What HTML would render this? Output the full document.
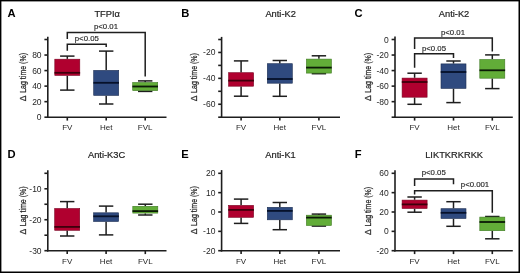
<!DOCTYPE html>
<html><head><meta charset="utf-8"><style>
html,body{margin:0;padding:0;background:#fff;}
body{width:520px;height:273px;overflow:hidden;}
svg{display:block;font-family:"Liberation Sans", sans-serif;will-change:transform;filter:blur(0.35px);}
</style></head><body>
<svg width="520" height="273" viewBox="0 0 520 273">
<rect x="0" y="0" width="520" height="273" fill="#fff"/>
<text x="7.60" y="17.10" font-size="11.2" text-anchor="start" font-weight="bold" fill="#000" >A</text>
<text x="94.40" y="17.00" font-size="9.3" text-anchor="start" font-weight="normal" fill="#1e1e1e" stroke="#1e1e1e" stroke-width="0.2">TFPI&#945;</text>
<line x1="47.80" y1="36.80" x2="47.80" y2="118.00" stroke="#1e1e1e" stroke-width="1.6"/>
<line x1="44.40" y1="117.20" x2="47.80" y2="117.20" stroke="#1e1e1e" stroke-width="1.6"/>
<text x="41.60" y="120.20" font-size="8.5" text-anchor="end" font-weight="normal" fill="#262626" >0</text>
<line x1="44.40" y1="101.66" x2="47.80" y2="101.66" stroke="#1e1e1e" stroke-width="1.6"/>
<text x="41.60" y="104.66" font-size="8.5" text-anchor="end" font-weight="normal" fill="#262626" >20</text>
<line x1="44.40" y1="86.12" x2="47.80" y2="86.12" stroke="#1e1e1e" stroke-width="1.6"/>
<text x="41.60" y="89.12" font-size="8.5" text-anchor="end" font-weight="normal" fill="#262626" >40</text>
<line x1="44.40" y1="70.58" x2="47.80" y2="70.58" stroke="#1e1e1e" stroke-width="1.6"/>
<text x="41.60" y="73.58" font-size="8.5" text-anchor="end" font-weight="normal" fill="#262626" >60</text>
<line x1="44.40" y1="55.04" x2="47.80" y2="55.04" stroke="#1e1e1e" stroke-width="1.6"/>
<text x="41.60" y="58.04" font-size="8.5" text-anchor="end" font-weight="normal" fill="#262626" >80</text>
<line x1="44.40" y1="39.50" x2="47.80" y2="39.50" stroke="#1e1e1e" stroke-width="1.6"/>
<text x="0" y="0" font-size="9.6" text-anchor="start" fill="#262626" transform="translate(26.00,92.80) rotate(-90) scale(0.732,1)" stroke="#262626" stroke-width="0.25">Lag time (%)</text>
<text x="0" y="0" font-size="8.6" text-anchor="middle" fill="#262626" transform="translate(26.00,98.30) rotate(-90)" stroke="#262626" stroke-width="0.25">&#916;</text>
<line x1="47.00" y1="117.20" x2="166.50" y2="117.20" stroke="#1e1e1e" stroke-width="1.6"/>
<line x1="67.30" y1="117.20" x2="67.30" y2="120.60" stroke="#1e1e1e" stroke-width="1.6"/>
<text x="67.30" y="130.10" font-size="8.0" text-anchor="middle" font-weight="normal" fill="#262626" >FV</text>
<line x1="106.20" y1="117.20" x2="106.20" y2="120.60" stroke="#1e1e1e" stroke-width="1.6"/>
<text x="106.20" y="130.10" font-size="8.0" text-anchor="middle" font-weight="normal" fill="#262626" >Het</text>
<line x1="145.20" y1="117.20" x2="145.20" y2="120.60" stroke="#1e1e1e" stroke-width="1.6"/>
<text x="145.20" y="130.10" font-size="8.0" text-anchor="middle" font-weight="normal" fill="#262626" >FVL</text>
<line x1="67.30" y1="56.10" x2="67.30" y2="58.90" stroke="#1e1e1e" stroke-width="1.5"/>
<line x1="67.30" y1="75.70" x2="67.30" y2="90.10" stroke="#1e1e1e" stroke-width="1.5"/>
<line x1="60.10" y1="56.10" x2="74.50" y2="56.10" stroke="#1e1e1e" stroke-width="1.5"/>
<line x1="60.10" y1="90.10" x2="74.50" y2="90.10" stroke="#1e1e1e" stroke-width="1.5"/>
<rect x="54.80" y="59.20" width="25.00" height="16.20" fill="#b0002f" stroke="#7a0020" stroke-width="0.6"/>
<line x1="54.50" y1="72.80" x2="80.10" y2="72.80" stroke="#3d000c" stroke-width="1.8"/>
<line x1="106.20" y1="51.10" x2="106.20" y2="70.10" stroke="#1e1e1e" stroke-width="1.5"/>
<line x1="106.20" y1="95.70" x2="106.20" y2="104.00" stroke="#1e1e1e" stroke-width="1.5"/>
<line x1="99.00" y1="51.10" x2="113.40" y2="51.10" stroke="#1e1e1e" stroke-width="1.5"/>
<line x1="99.00" y1="104.00" x2="113.40" y2="104.00" stroke="#1e1e1e" stroke-width="1.5"/>
<rect x="93.70" y="70.40" width="25.00" height="25.00" fill="#2f4a7f" stroke="#1b2d52" stroke-width="0.6"/>
<line x1="93.40" y1="82.80" x2="119.00" y2="82.80" stroke="#06112a" stroke-width="1.8"/>
<line x1="145.20" y1="80.90" x2="145.20" y2="82.20" stroke="#1e1e1e" stroke-width="1.5"/>
<line x1="145.20" y1="90.90" x2="145.20" y2="91.40" stroke="#1e1e1e" stroke-width="1.5"/>
<line x1="138.00" y1="80.90" x2="152.40" y2="80.90" stroke="#1e1e1e" stroke-width="1.5"/>
<line x1="138.00" y1="91.40" x2="152.40" y2="91.40" stroke="#1e1e1e" stroke-width="1.5"/>
<rect x="132.70" y="82.50" width="25.00" height="8.10" fill="#62ad38" stroke="#3f7a22" stroke-width="0.6"/>
<line x1="132.40" y1="86.50" x2="158.00" y2="86.50" stroke="#0b1a06" stroke-width="1.8"/>
<polyline points="67.30,50.80 67.30,44.30 106.20,44.30 106.20,47.10" fill="none" stroke="#1e1e1e" stroke-width="1.5"/>
<text x="86.80" y="41.20" font-size="7.8" text-anchor="middle" font-weight="normal" fill="#262626" stroke="#262626" stroke-width="0.15">p&lt;0.05</text>
<polyline points="67.30,39.00 67.30,32.50 145.20,32.50 145.20,76.50" fill="none" stroke="#1e1e1e" stroke-width="1.5"/>
<text x="106.00" y="29.40" font-size="7.8" text-anchor="middle" font-weight="normal" fill="#262626" stroke="#262626" stroke-width="0.15">p&lt;0.01</text>
<text x="181.20" y="16.90" font-size="11.2" text-anchor="start" font-weight="bold" fill="#000" >B</text>
<text x="265.40" y="17.20" font-size="9.3" text-anchor="start" font-weight="normal" fill="#1e1e1e" stroke="#1e1e1e" stroke-width="0.2">Anti-K2</text>
<line x1="221.60" y1="36.90" x2="221.60" y2="118.00" stroke="#1e1e1e" stroke-width="1.6"/>
<line x1="218.20" y1="39.50" x2="221.60" y2="39.50" stroke="#1e1e1e" stroke-width="1.6"/>
<line x1="218.20" y1="52.45" x2="221.60" y2="52.45" stroke="#1e1e1e" stroke-width="1.6"/>
<text x="215.40" y="55.45" font-size="8.5" text-anchor="end" font-weight="normal" fill="#262626" >-20</text>
<line x1="218.20" y1="65.40" x2="221.60" y2="65.40" stroke="#1e1e1e" stroke-width="1.6"/>
<line x1="218.20" y1="78.35" x2="221.60" y2="78.35" stroke="#1e1e1e" stroke-width="1.6"/>
<text x="215.40" y="81.35" font-size="8.5" text-anchor="end" font-weight="normal" fill="#262626" >-40</text>
<line x1="218.20" y1="91.30" x2="221.60" y2="91.30" stroke="#1e1e1e" stroke-width="1.6"/>
<line x1="218.20" y1="104.25" x2="221.60" y2="104.25" stroke="#1e1e1e" stroke-width="1.6"/>
<text x="215.40" y="107.25" font-size="8.5" text-anchor="end" font-weight="normal" fill="#262626" >-60</text>
<line x1="218.20" y1="117.20" x2="221.60" y2="117.20" stroke="#1e1e1e" stroke-width="1.6"/>
<text x="0" y="0" font-size="9.6" text-anchor="start" fill="#262626" transform="translate(196.80,92.90) rotate(-90) scale(0.732,1)" stroke="#262626" stroke-width="0.25">Lag time (%)</text>
<text x="0" y="0" font-size="8.6" text-anchor="middle" fill="#262626" transform="translate(196.80,98.40) rotate(-90)" stroke="#262626" stroke-width="0.25">&#916;</text>
<line x1="220.80" y1="117.20" x2="340.00" y2="117.20" stroke="#1e1e1e" stroke-width="1.6"/>
<line x1="241.10" y1="117.20" x2="241.10" y2="120.60" stroke="#1e1e1e" stroke-width="1.6"/>
<text x="241.10" y="130.10" font-size="8.0" text-anchor="middle" font-weight="normal" fill="#262626" >FV</text>
<line x1="279.80" y1="117.20" x2="279.80" y2="120.60" stroke="#1e1e1e" stroke-width="1.6"/>
<text x="279.80" y="130.10" font-size="8.0" text-anchor="middle" font-weight="normal" fill="#262626" >Het</text>
<line x1="318.90" y1="117.20" x2="318.90" y2="120.60" stroke="#1e1e1e" stroke-width="1.6"/>
<text x="318.90" y="130.10" font-size="8.0" text-anchor="middle" font-weight="normal" fill="#262626" >FVL</text>
<line x1="241.10" y1="60.90" x2="241.10" y2="72.40" stroke="#1e1e1e" stroke-width="1.5"/>
<line x1="241.10" y1="86.50" x2="241.10" y2="96.20" stroke="#1e1e1e" stroke-width="1.5"/>
<line x1="233.90" y1="60.90" x2="248.30" y2="60.90" stroke="#1e1e1e" stroke-width="1.5"/>
<line x1="233.90" y1="96.20" x2="248.30" y2="96.20" stroke="#1e1e1e" stroke-width="1.5"/>
<rect x="228.60" y="72.70" width="25.00" height="13.50" fill="#b0002f" stroke="#7a0020" stroke-width="0.6"/>
<line x1="228.30" y1="80.60" x2="253.90" y2="80.60" stroke="#3d000c" stroke-width="1.8"/>
<line x1="279.80" y1="60.50" x2="279.80" y2="63.40" stroke="#1e1e1e" stroke-width="1.5"/>
<line x1="279.80" y1="83.50" x2="279.80" y2="96.30" stroke="#1e1e1e" stroke-width="1.5"/>
<line x1="272.60" y1="60.50" x2="287.00" y2="60.50" stroke="#1e1e1e" stroke-width="1.5"/>
<line x1="272.60" y1="96.30" x2="287.00" y2="96.30" stroke="#1e1e1e" stroke-width="1.5"/>
<rect x="267.30" y="63.70" width="25.00" height="19.50" fill="#2f4a7f" stroke="#1b2d52" stroke-width="0.6"/>
<line x1="267.00" y1="79.00" x2="292.60" y2="79.00" stroke="#06112a" stroke-width="1.8"/>
<line x1="318.90" y1="55.80" x2="318.90" y2="58.80" stroke="#1e1e1e" stroke-width="1.5"/>
<line x1="318.90" y1="73.40" x2="318.90" y2="73.70" stroke="#1e1e1e" stroke-width="1.5"/>
<line x1="311.70" y1="55.80" x2="326.10" y2="55.80" stroke="#1e1e1e" stroke-width="1.5"/>
<line x1="311.70" y1="73.70" x2="326.10" y2="73.70" stroke="#1e1e1e" stroke-width="1.5"/>
<rect x="306.40" y="59.10" width="25.00" height="14.00" fill="#62ad38" stroke="#3f7a22" stroke-width="0.6"/>
<line x1="306.10" y1="67.60" x2="331.70" y2="67.60" stroke="#0b1a06" stroke-width="1.8"/>
<text x="354.60" y="17.10" font-size="11.2" text-anchor="start" font-weight="bold" fill="#000" >C</text>
<text x="438.80" y="17.20" font-size="9.3" text-anchor="start" font-weight="normal" fill="#1e1e1e" stroke="#1e1e1e" stroke-width="0.2">Anti-K2</text>
<line x1="395.00" y1="36.50" x2="395.00" y2="118.00" stroke="#1e1e1e" stroke-width="1.6"/>
<line x1="391.60" y1="39.50" x2="395.00" y2="39.50" stroke="#1e1e1e" stroke-width="1.6"/>
<text x="388.80" y="42.50" font-size="8.5" text-anchor="end" font-weight="normal" fill="#262626" >0</text>
<line x1="391.60" y1="55.04" x2="395.00" y2="55.04" stroke="#1e1e1e" stroke-width="1.6"/>
<text x="388.80" y="58.04" font-size="8.5" text-anchor="end" font-weight="normal" fill="#262626" >-20</text>
<line x1="391.60" y1="70.58" x2="395.00" y2="70.58" stroke="#1e1e1e" stroke-width="1.6"/>
<text x="388.80" y="73.58" font-size="8.5" text-anchor="end" font-weight="normal" fill="#262626" >-40</text>
<line x1="391.60" y1="86.12" x2="395.00" y2="86.12" stroke="#1e1e1e" stroke-width="1.6"/>
<text x="388.80" y="89.12" font-size="8.5" text-anchor="end" font-weight="normal" fill="#262626" >-60</text>
<line x1="391.60" y1="101.66" x2="395.00" y2="101.66" stroke="#1e1e1e" stroke-width="1.6"/>
<text x="388.80" y="104.66" font-size="8.5" text-anchor="end" font-weight="normal" fill="#262626" >-80</text>
<line x1="391.60" y1="117.20" x2="395.00" y2="117.20" stroke="#1e1e1e" stroke-width="1.6"/>
<text x="0" y="0" font-size="9.6" text-anchor="start" fill="#262626" transform="translate(371.30,92.70) rotate(-90) scale(0.732,1)" stroke="#262626" stroke-width="0.25">Lag time (%)</text>
<text x="0" y="0" font-size="8.6" text-anchor="middle" fill="#262626" transform="translate(371.30,98.20) rotate(-90)" stroke="#262626" stroke-width="0.25">&#916;</text>
<line x1="394.20" y1="117.20" x2="512.80" y2="117.20" stroke="#1e1e1e" stroke-width="1.6"/>
<line x1="414.60" y1="117.20" x2="414.60" y2="120.60" stroke="#1e1e1e" stroke-width="1.6"/>
<text x="414.60" y="130.40" font-size="8.0" text-anchor="middle" font-weight="normal" fill="#262626" >FV</text>
<line x1="453.50" y1="117.20" x2="453.50" y2="120.60" stroke="#1e1e1e" stroke-width="1.6"/>
<text x="453.50" y="130.40" font-size="8.0" text-anchor="middle" font-weight="normal" fill="#262626" >Het</text>
<line x1="492.30" y1="117.20" x2="492.30" y2="120.60" stroke="#1e1e1e" stroke-width="1.6"/>
<text x="492.30" y="130.40" font-size="8.0" text-anchor="middle" font-weight="normal" fill="#262626" >FVL</text>
<line x1="414.60" y1="73.20" x2="414.60" y2="77.80" stroke="#1e1e1e" stroke-width="1.5"/>
<line x1="414.60" y1="97.50" x2="414.60" y2="104.30" stroke="#1e1e1e" stroke-width="1.5"/>
<line x1="407.40" y1="73.20" x2="421.80" y2="73.20" stroke="#1e1e1e" stroke-width="1.5"/>
<line x1="407.40" y1="104.30" x2="421.80" y2="104.30" stroke="#1e1e1e" stroke-width="1.5"/>
<rect x="402.10" y="78.10" width="25.00" height="19.10" fill="#b0002f" stroke="#7a0020" stroke-width="0.6"/>
<line x1="401.80" y1="82.00" x2="427.40" y2="82.00" stroke="#3d000c" stroke-width="1.8"/>
<line x1="453.50" y1="61.00" x2="453.50" y2="63.60" stroke="#1e1e1e" stroke-width="1.5"/>
<line x1="453.50" y1="88.70" x2="453.50" y2="102.60" stroke="#1e1e1e" stroke-width="1.5"/>
<line x1="446.30" y1="61.00" x2="460.70" y2="61.00" stroke="#1e1e1e" stroke-width="1.5"/>
<line x1="446.30" y1="102.60" x2="460.70" y2="102.60" stroke="#1e1e1e" stroke-width="1.5"/>
<rect x="441.00" y="63.90" width="25.00" height="24.50" fill="#2f4a7f" stroke="#1b2d52" stroke-width="0.6"/>
<line x1="440.70" y1="72.00" x2="466.30" y2="72.00" stroke="#06112a" stroke-width="1.8"/>
<line x1="492.30" y1="54.90" x2="492.30" y2="59.20" stroke="#1e1e1e" stroke-width="1.5"/>
<line x1="492.30" y1="78.50" x2="492.30" y2="88.60" stroke="#1e1e1e" stroke-width="1.5"/>
<line x1="485.10" y1="54.90" x2="499.50" y2="54.90" stroke="#1e1e1e" stroke-width="1.5"/>
<line x1="485.10" y1="88.60" x2="499.50" y2="88.60" stroke="#1e1e1e" stroke-width="1.5"/>
<rect x="479.80" y="59.50" width="25.00" height="18.70" fill="#62ad38" stroke="#3f7a22" stroke-width="0.6"/>
<line x1="479.50" y1="70.30" x2="505.10" y2="70.30" stroke="#0b1a06" stroke-width="1.8"/>
<polyline points="414.60,67.70 414.60,53.80 453.50,53.80 453.50,58.00" fill="none" stroke="#1e1e1e" stroke-width="1.5"/>
<text x="434.00" y="51.00" font-size="7.8" text-anchor="middle" font-weight="normal" fill="#262626" stroke="#262626" stroke-width="0.15">p&lt;0.05</text>
<polyline points="414.60,48.90 414.60,37.90 492.30,37.90 492.30,51.60" fill="none" stroke="#1e1e1e" stroke-width="1.5"/>
<text x="453.00" y="35.10" font-size="7.8" text-anchor="middle" font-weight="normal" fill="#262626" stroke="#262626" stroke-width="0.15">p&lt;0.01</text>
<text x="7.60" y="157.80" font-size="11.2" text-anchor="start" font-weight="bold" fill="#000" >D</text>
<text x="88.00" y="158.20" font-size="9.3" text-anchor="start" font-weight="normal" fill="#1e1e1e" stroke="#1e1e1e" stroke-width="0.2">Anti-K3C</text>
<line x1="47.80" y1="170.30" x2="47.80" y2="251.50" stroke="#1e1e1e" stroke-width="1.6"/>
<line x1="44.40" y1="250.70" x2="47.80" y2="250.70" stroke="#1e1e1e" stroke-width="1.6"/>
<text x="41.60" y="253.70" font-size="8.5" text-anchor="end" font-weight="normal" fill="#262626" >-30</text>
<line x1="44.40" y1="235.22" x2="47.80" y2="235.22" stroke="#1e1e1e" stroke-width="1.6"/>
<line x1="44.40" y1="219.74" x2="47.80" y2="219.74" stroke="#1e1e1e" stroke-width="1.6"/>
<text x="41.60" y="222.74" font-size="8.5" text-anchor="end" font-weight="normal" fill="#262626" >-20</text>
<line x1="44.40" y1="204.26" x2="47.80" y2="204.26" stroke="#1e1e1e" stroke-width="1.6"/>
<line x1="44.40" y1="188.78" x2="47.80" y2="188.78" stroke="#1e1e1e" stroke-width="1.6"/>
<text x="41.60" y="191.78" font-size="8.5" text-anchor="end" font-weight="normal" fill="#262626" >-10</text>
<line x1="44.40" y1="173.30" x2="47.80" y2="173.30" stroke="#1e1e1e" stroke-width="1.6"/>
<text x="0" y="0" font-size="9.6" text-anchor="start" fill="#262626" transform="translate(26.10,226.20) rotate(-90) scale(0.732,1)" stroke="#262626" stroke-width="0.25">Lag time (%)</text>
<text x="0" y="0" font-size="8.6" text-anchor="middle" fill="#262626" transform="translate(26.10,231.70) rotate(-90)" stroke="#262626" stroke-width="0.25">&#916;</text>
<line x1="47.00" y1="250.70" x2="166.50" y2="250.70" stroke="#1e1e1e" stroke-width="1.6"/>
<line x1="67.20" y1="250.70" x2="67.20" y2="254.10" stroke="#1e1e1e" stroke-width="1.6"/>
<text x="67.20" y="263.60" font-size="8.0" text-anchor="middle" font-weight="normal" fill="#262626" >FV</text>
<line x1="106.10" y1="250.70" x2="106.10" y2="254.10" stroke="#1e1e1e" stroke-width="1.6"/>
<text x="106.10" y="263.60" font-size="8.0" text-anchor="middle" font-weight="normal" fill="#262626" >Het</text>
<line x1="145.30" y1="250.70" x2="145.30" y2="254.10" stroke="#1e1e1e" stroke-width="1.6"/>
<text x="145.30" y="263.60" font-size="8.0" text-anchor="middle" font-weight="normal" fill="#262626" >FVL</text>
<line x1="67.20" y1="201.60" x2="67.20" y2="208.20" stroke="#1e1e1e" stroke-width="1.5"/>
<line x1="67.20" y1="230.60" x2="67.20" y2="236.00" stroke="#1e1e1e" stroke-width="1.5"/>
<line x1="60.00" y1="201.60" x2="74.40" y2="201.60" stroke="#1e1e1e" stroke-width="1.5"/>
<line x1="60.00" y1="236.00" x2="74.40" y2="236.00" stroke="#1e1e1e" stroke-width="1.5"/>
<rect x="54.70" y="208.50" width="25.00" height="21.80" fill="#b0002f" stroke="#7a0020" stroke-width="0.6"/>
<line x1="54.40" y1="226.90" x2="80.00" y2="226.90" stroke="#3d000c" stroke-width="1.8"/>
<line x1="106.10" y1="206.10" x2="106.10" y2="212.50" stroke="#1e1e1e" stroke-width="1.5"/>
<line x1="106.10" y1="221.80" x2="106.10" y2="234.90" stroke="#1e1e1e" stroke-width="1.5"/>
<line x1="98.90" y1="206.10" x2="113.30" y2="206.10" stroke="#1e1e1e" stroke-width="1.5"/>
<line x1="98.90" y1="234.90" x2="113.30" y2="234.90" stroke="#1e1e1e" stroke-width="1.5"/>
<rect x="93.60" y="212.80" width="25.00" height="8.70" fill="#2f4a7f" stroke="#1b2d52" stroke-width="0.6"/>
<line x1="93.30" y1="216.30" x2="118.90" y2="216.30" stroke="#06112a" stroke-width="1.8"/>
<line x1="145.30" y1="204.20" x2="145.30" y2="206.00" stroke="#1e1e1e" stroke-width="1.5"/>
<line x1="145.30" y1="213.40" x2="145.30" y2="215.00" stroke="#1e1e1e" stroke-width="1.5"/>
<line x1="138.10" y1="204.20" x2="152.50" y2="204.20" stroke="#1e1e1e" stroke-width="1.5"/>
<line x1="138.10" y1="215.00" x2="152.50" y2="215.00" stroke="#1e1e1e" stroke-width="1.5"/>
<rect x="132.80" y="206.30" width="25.00" height="6.80" fill="#62ad38" stroke="#3f7a22" stroke-width="0.6"/>
<line x1="132.50" y1="211.10" x2="158.10" y2="211.10" stroke="#0b1a06" stroke-width="1.8"/>
<text x="181.20" y="157.80" font-size="11.2" text-anchor="start" font-weight="bold" fill="#000" >E</text>
<text x="265.30" y="158.20" font-size="9.3" text-anchor="start" font-weight="normal" fill="#1e1e1e" stroke="#1e1e1e" stroke-width="0.2">Anti-K1</text>
<line x1="221.60" y1="170.10" x2="221.60" y2="251.50" stroke="#1e1e1e" stroke-width="1.6"/>
<line x1="218.20" y1="250.70" x2="221.60" y2="250.70" stroke="#1e1e1e" stroke-width="1.6"/>
<text x="215.40" y="253.70" font-size="8.5" text-anchor="end" font-weight="normal" fill="#262626" >-20</text>
<line x1="218.20" y1="231.35" x2="221.60" y2="231.35" stroke="#1e1e1e" stroke-width="1.6"/>
<text x="215.40" y="234.35" font-size="8.5" text-anchor="end" font-weight="normal" fill="#262626" >-10</text>
<line x1="218.20" y1="212.00" x2="221.60" y2="212.00" stroke="#1e1e1e" stroke-width="1.6"/>
<text x="215.40" y="215.00" font-size="8.5" text-anchor="end" font-weight="normal" fill="#262626" >0</text>
<line x1="218.20" y1="192.65" x2="221.60" y2="192.65" stroke="#1e1e1e" stroke-width="1.6"/>
<text x="215.40" y="195.65" font-size="8.5" text-anchor="end" font-weight="normal" fill="#262626" >10</text>
<line x1="218.20" y1="173.30" x2="221.60" y2="173.30" stroke="#1e1e1e" stroke-width="1.6"/>
<text x="215.40" y="176.30" font-size="8.5" text-anchor="end" font-weight="normal" fill="#262626" >20</text>
<text x="0" y="0" font-size="9.6" text-anchor="start" fill="#262626" transform="translate(197.30,225.90) rotate(-90) scale(0.732,1)" stroke="#262626" stroke-width="0.25">Lag time (%)</text>
<text x="0" y="0" font-size="8.6" text-anchor="middle" fill="#262626" transform="translate(197.30,231.40) rotate(-90)" stroke="#262626" stroke-width="0.25">&#916;</text>
<line x1="220.80" y1="250.70" x2="340.00" y2="250.70" stroke="#1e1e1e" stroke-width="1.6"/>
<line x1="241.10" y1="250.70" x2="241.10" y2="254.10" stroke="#1e1e1e" stroke-width="1.6"/>
<text x="241.10" y="263.60" font-size="8.0" text-anchor="middle" font-weight="normal" fill="#262626" >FV</text>
<line x1="279.80" y1="250.70" x2="279.80" y2="254.10" stroke="#1e1e1e" stroke-width="1.6"/>
<text x="279.80" y="263.60" font-size="8.0" text-anchor="middle" font-weight="normal" fill="#262626" >Het</text>
<line x1="318.90" y1="250.70" x2="318.90" y2="254.10" stroke="#1e1e1e" stroke-width="1.6"/>
<text x="318.90" y="263.60" font-size="8.0" text-anchor="middle" font-weight="normal" fill="#262626" >FVL</text>
<line x1="241.10" y1="199.10" x2="241.10" y2="205.10" stroke="#1e1e1e" stroke-width="1.5"/>
<line x1="241.10" y1="217.60" x2="241.10" y2="223.40" stroke="#1e1e1e" stroke-width="1.5"/>
<line x1="233.90" y1="199.10" x2="248.30" y2="199.10" stroke="#1e1e1e" stroke-width="1.5"/>
<line x1="233.90" y1="223.40" x2="248.30" y2="223.40" stroke="#1e1e1e" stroke-width="1.5"/>
<rect x="228.60" y="205.40" width="25.00" height="11.90" fill="#b0002f" stroke="#7a0020" stroke-width="0.6"/>
<line x1="228.30" y1="209.90" x2="253.90" y2="209.90" stroke="#3d000c" stroke-width="1.8"/>
<line x1="279.80" y1="202.50" x2="279.80" y2="207.00" stroke="#1e1e1e" stroke-width="1.5"/>
<line x1="279.80" y1="220.10" x2="279.80" y2="229.70" stroke="#1e1e1e" stroke-width="1.5"/>
<line x1="272.60" y1="202.50" x2="287.00" y2="202.50" stroke="#1e1e1e" stroke-width="1.5"/>
<line x1="272.60" y1="229.70" x2="287.00" y2="229.70" stroke="#1e1e1e" stroke-width="1.5"/>
<rect x="267.30" y="207.30" width="25.00" height="12.50" fill="#2f4a7f" stroke="#1b2d52" stroke-width="0.6"/>
<line x1="267.00" y1="210.90" x2="292.60" y2="210.90" stroke="#06112a" stroke-width="1.8"/>
<line x1="318.90" y1="214.10" x2="318.90" y2="214.90" stroke="#1e1e1e" stroke-width="1.5"/>
<line x1="318.90" y1="225.80" x2="318.90" y2="226.10" stroke="#1e1e1e" stroke-width="1.5"/>
<line x1="311.70" y1="214.10" x2="326.10" y2="214.10" stroke="#1e1e1e" stroke-width="1.5"/>
<line x1="311.70" y1="226.10" x2="326.10" y2="226.10" stroke="#1e1e1e" stroke-width="1.5"/>
<rect x="306.40" y="215.20" width="25.00" height="10.30" fill="#62ad38" stroke="#3f7a22" stroke-width="0.6"/>
<line x1="306.10" y1="217.60" x2="331.70" y2="217.60" stroke="#0b1a06" stroke-width="1.8"/>
<text x="354.80" y="157.80" font-size="11.2" text-anchor="start" font-weight="bold" fill="#000" >F</text>
<text x="425.20" y="158.40" font-size="9.3" text-anchor="start" font-weight="normal" fill="#1e1e1e" stroke="#1e1e1e" stroke-width="0.2">LIKTKRKRKK</text>
<line x1="395.00" y1="170.30" x2="395.00" y2="251.50" stroke="#1e1e1e" stroke-width="1.6"/>
<line x1="391.60" y1="250.70" x2="395.00" y2="250.70" stroke="#1e1e1e" stroke-width="1.6"/>
<text x="388.80" y="253.70" font-size="8.5" text-anchor="end" font-weight="normal" fill="#262626" >-20</text>
<line x1="391.60" y1="231.35" x2="395.00" y2="231.35" stroke="#1e1e1e" stroke-width="1.6"/>
<text x="388.80" y="234.35" font-size="8.5" text-anchor="end" font-weight="normal" fill="#262626" >0</text>
<line x1="391.60" y1="212.00" x2="395.00" y2="212.00" stroke="#1e1e1e" stroke-width="1.6"/>
<text x="388.80" y="215.00" font-size="8.5" text-anchor="end" font-weight="normal" fill="#262626" >20</text>
<line x1="391.60" y1="192.65" x2="395.00" y2="192.65" stroke="#1e1e1e" stroke-width="1.6"/>
<text x="388.80" y="195.65" font-size="8.5" text-anchor="end" font-weight="normal" fill="#262626" >40</text>
<line x1="391.60" y1="173.30" x2="395.00" y2="173.30" stroke="#1e1e1e" stroke-width="1.6"/>
<text x="388.80" y="176.30" font-size="8.5" text-anchor="end" font-weight="normal" fill="#262626" >60</text>
<text x="0" y="0" font-size="9.6" text-anchor="start" fill="#262626" transform="translate(371.30,226.60) rotate(-90) scale(0.732,1)" stroke="#262626" stroke-width="0.25">Lag time (%)</text>
<text x="0" y="0" font-size="8.6" text-anchor="middle" fill="#262626" transform="translate(371.30,232.10) rotate(-90)" stroke="#262626" stroke-width="0.25">&#916;</text>
<line x1="394.20" y1="250.70" x2="512.80" y2="250.70" stroke="#1e1e1e" stroke-width="1.6"/>
<line x1="414.60" y1="250.70" x2="414.60" y2="254.10" stroke="#1e1e1e" stroke-width="1.6"/>
<text x="414.60" y="263.60" font-size="8.0" text-anchor="middle" font-weight="normal" fill="#262626" >FV</text>
<line x1="453.50" y1="250.70" x2="453.50" y2="254.10" stroke="#1e1e1e" stroke-width="1.6"/>
<text x="453.50" y="263.60" font-size="8.0" text-anchor="middle" font-weight="normal" fill="#262626" >Het</text>
<line x1="492.30" y1="250.70" x2="492.30" y2="254.10" stroke="#1e1e1e" stroke-width="1.6"/>
<text x="492.30" y="263.60" font-size="8.0" text-anchor="middle" font-weight="normal" fill="#262626" >FVL</text>
<line x1="414.60" y1="197.00" x2="414.60" y2="199.80" stroke="#1e1e1e" stroke-width="1.5"/>
<line x1="414.60" y1="208.80" x2="414.60" y2="212.20" stroke="#1e1e1e" stroke-width="1.5"/>
<line x1="407.40" y1="197.00" x2="421.80" y2="197.00" stroke="#1e1e1e" stroke-width="1.5"/>
<line x1="407.40" y1="212.20" x2="421.80" y2="212.20" stroke="#1e1e1e" stroke-width="1.5"/>
<rect x="402.10" y="200.10" width="25.00" height="8.40" fill="#b0002f" stroke="#7a0020" stroke-width="0.6"/>
<line x1="401.80" y1="204.40" x2="427.40" y2="204.40" stroke="#3d000c" stroke-width="1.8"/>
<line x1="453.50" y1="201.70" x2="453.50" y2="208.40" stroke="#1e1e1e" stroke-width="1.5"/>
<line x1="453.50" y1="218.80" x2="453.50" y2="226.30" stroke="#1e1e1e" stroke-width="1.5"/>
<line x1="446.30" y1="201.70" x2="460.70" y2="201.70" stroke="#1e1e1e" stroke-width="1.5"/>
<line x1="446.30" y1="226.30" x2="460.70" y2="226.30" stroke="#1e1e1e" stroke-width="1.5"/>
<rect x="441.00" y="208.70" width="25.00" height="9.80" fill="#2f4a7f" stroke="#1b2d52" stroke-width="0.6"/>
<line x1="440.70" y1="212.80" x2="466.30" y2="212.80" stroke="#06112a" stroke-width="1.8"/>
<line x1="492.30" y1="216.50" x2="492.30" y2="216.80" stroke="#1e1e1e" stroke-width="1.5"/>
<line x1="492.30" y1="231.00" x2="492.30" y2="238.80" stroke="#1e1e1e" stroke-width="1.5"/>
<line x1="485.10" y1="216.50" x2="499.50" y2="216.50" stroke="#1e1e1e" stroke-width="1.5"/>
<line x1="485.10" y1="238.80" x2="499.50" y2="238.80" stroke="#1e1e1e" stroke-width="1.5"/>
<rect x="479.80" y="217.10" width="25.00" height="13.60" fill="#62ad38" stroke="#3f7a22" stroke-width="0.6"/>
<line x1="479.50" y1="222.00" x2="505.10" y2="222.00" stroke="#0b1a06" stroke-width="1.8"/>
<polyline points="414.60,186.00 414.60,179.00 453.50,179.00 453.50,184.20" fill="none" stroke="#1e1e1e" stroke-width="1.5"/>
<text x="433.70" y="175.30" font-size="7.8" text-anchor="middle" font-weight="normal" fill="#262626" stroke="#262626" stroke-width="0.15">p&lt;0.05</text>
<polyline points="414.60,194.50 414.60,190.80 492.30,190.80 492.30,212.80" fill="none" stroke="#1e1e1e" stroke-width="1.5"/>
<text x="475.00" y="187.40" font-size="7.8" text-anchor="middle" font-weight="normal" fill="#262626" stroke="#262626" stroke-width="0.15">p&lt;0.001</text>
<rect x="0.65" y="0.65" width="518.6" height="271.6" fill="none" stroke="#000" stroke-width="1.5"/>
</svg>
</body></html>
